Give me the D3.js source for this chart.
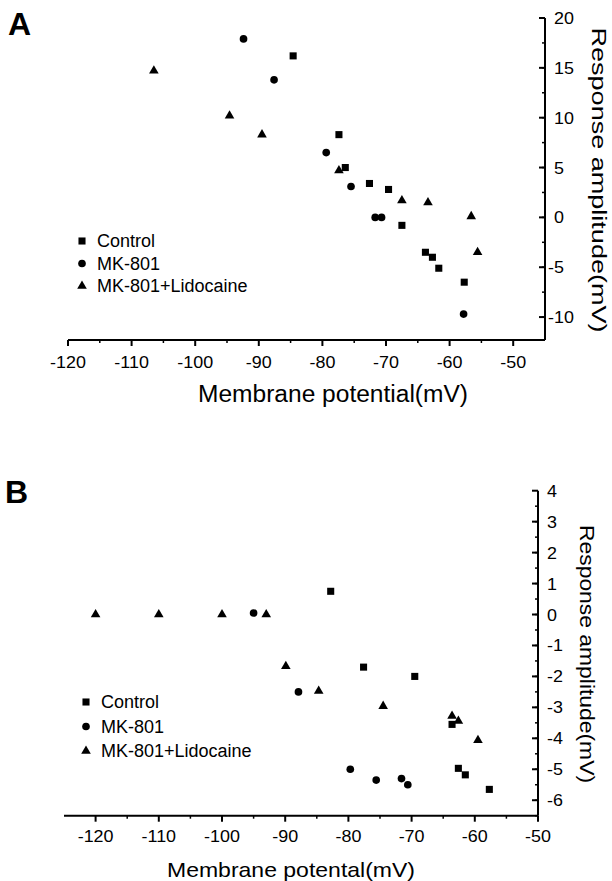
<!DOCTYPE html>
<html>
<head>
<meta charset="utf-8">
<script src="https://cdn.jsdelivr.net/npm/d3@7"></script>
<style>
  body { margin: 0; background: #fff; }
  svg { display: block; font-family: Arial, "Liberation Sans", sans-serif; }
</style>
</head>
<body>
<div id="chart"></div>
<script>
// Panel A data
const seriesNames = ["Control", "MK-801", "MK-801+Lidocaine"];
const aControlX = [-84.6, -77.4, -76.4, -72.6, -69.6, -67.5, -63.8, -62.7, -61.7, -57.7];
const aControlY = [16.2, 8.3, 5.0, 3.4, 2.8, -0.8, -3.5, -4.0, -5.1, -6.5];
const aMkX = [-92.4, -87.6, -79.4, -75.5, -71.7, -70.7, -57.8];
const aMkY = [17.9, 13.8, 6.5, 3.1, 0, 0, -9.7];
const aLidoX = [-106.5, -94.6, -89.5, -77.4, -67.5, -63.4, -56.6, -55.6];
const aLidoY = [14.7, 10.2, 8.3, 4.7, 1.7, 1.5, 0.1, -3.5];

// Panel B data
const bControlX = [-82.8, -77.6, -69.5, -63.6, -62.6, -61.5, -57.7];
const bControlY = [0.75, -1.7, -2.0, -3.55, -4.97, -5.18, -5.65];
const bMkX = [-95, -87.9, -79.7, -75.6, -71.6, -70.6];
const bMkY = [0.05, -2.5, -5.0, -5.35, -5.3, -5.5];
const bLidoX = [-120, -110, -100, -93, -89.9, -84.7, -74.5, -63.6, -62.6, -59.5];
const bLidoY = [0, 0, 0, 0, -1.67, -2.47, -2.96, -3.28, -3.44, -4.06];

// tick values
const aXTicks = [-120, -110, -100, -90, -80, -70, -60, -50];
const aYTicks = [-10, -5, 0, 5, 10, 15, 20];
const bXTicks = [-120, -110, -100, -90, -80, -70, -60, -50];
const bYTicks = [-6, -5, -4, -3, -2, -1, 0, 1, 2, 3, 4];

const width = 612, height = 881;
const svg = d3.select("#chart").append("svg")
    .attr("width", width)
    .attr("height", height);

const symbols = [d3.symbolSquare, d3.symbolCircle, d3.symbolTriangle];
const symbolSizes = [50, 46, 40];

function zip(xs, ys) {
    return xs.map((x, i) => ({ x: x, y: ys[i] }));
}

function drawPanel(p) {
    const g = svg.append("g");
    const x = d3.scaleLinear().domain(p.xDomain).range(p.xRange);
    const y = d3.scaleLinear().domain(p.yDomain).range(p.yRange);
    const axisX = p.xRange[1];
    const axisY = p.yRange[0];

    // x axis line and ticks
    g.append("line")
        .attr("x1", p.xRange[0]).attr("x2", axisX)
        .attr("y1", axisY).attr("y2", axisY)
        .attr("stroke", "#000").attr("stroke-width", 2);
    g.selectAll(".xminor").data(p.xMinor).enter().append("line")
        .attr("x1", d => x(d)).attr("x2", d => x(d))
        .attr("y1", axisY).attr("y2", axisY + 3)
        .attr("stroke", "#000").attr("stroke-width", 1.5);
    g.selectAll(".xmajor").data(p.xTicks).enter().append("line")
        .attr("x1", d => x(d)).attr("x2", d => x(d))
        .attr("y1", axisY).attr("y2", axisY + 6)
        .attr("stroke", "#000").attr("stroke-width", 2);
    // the scan's digits are a bit wider than Arial, so stretch them a little
    g.selectAll(".xlab").data(p.xTicks).enter().append("text")
        .attr("transform", d => `translate(${x(d)},${p.xLabelBase}) scale(1.12,1)`)
        .attr("text-anchor", "middle")
        .attr("font-size", 16)
        .text(d => d);

    // y axis on the right
    g.append("line")
        .attr("x1", axisX).attr("x2", axisX)
        .attr("y1", p.yRange[1]).attr("y2", axisY)
        .attr("stroke", "#000").attr("stroke-width", 2);
    g.selectAll(".yminor").data(p.yMinor).enter().append("line")
        .attr("x1", axisX - 3).attr("x2", axisX)
        .attr("y1", d => y(d)).attr("y2", d => y(d))
        .attr("stroke", "#000").attr("stroke-width", 1.5);
    g.selectAll(".ymajor").data(p.yTicks).enter().append("line")
        .attr("x1", axisX - 6).attr("x2", axisX)
        .attr("y1", d => y(d)).attr("y2", d => y(d))
        .attr("stroke", "#000").attr("stroke-width", 2);
    g.selectAll(".ylab").data(p.yTicks).enter().append("text")
        .attr("transform", d => `translate(${axisX + (d < 0 ? p.negOffset : 9)},${y(d) + 6}) scale(1.12,1)`)
        .attr("font-size", 16)
        .text(d => d);

    // axis titles
    g.append("text")
        .attr("x", p.xTitle[0]).attr("y", p.xTitle[1])
        .attr("text-anchor", "middle")
        .attr("font-size", p.xTitle[2])
        .attr("textLength", p.xTitle[3])
        .attr("lengthAdjust", "spacingAndGlyphs")
        .text(p.xTitleText);
    g.append("text")
        .attr("transform", `translate(${p.yTitle[0]},${p.yTitle[1]}) rotate(90)`)
        .attr("text-anchor", "middle")
        .attr("font-size", p.yTitle[2])
        .attr("textLength", p.yTitle[3])
        .attr("lengthAdjust", "spacingAndGlyphs")
        .text("Response amplitude(mV)");

    // panel letter
    g.append("text")
        .attr("x", p.letterPos[0]).attr("y", p.letterPos[1])
        .attr("font-size", 32).attr("font-weight", "bold")
        .text(p.letter);

    // points
    p.series.forEach((s, i) => {
        g.selectAll(".pt" + i).data(s).enter().append("path")
            .attr("d", d3.symbol().type(symbols[i]).size(symbolSizes[i]))
            .attr("transform", d => `translate(${x(d.x)},${y(d.y)})`)
            .attr("fill", "#000");
    });

    // legend
    seriesNames.forEach((name, i) => {
        const ly = p.legend[1] + i * p.legend[2];
        g.append("path")
            .attr("d", d3.symbol().type(symbols[i]).size(symbolSizes[i]))
            .attr("transform", `translate(${p.legend[0]},${ly - 6})`)
            .attr("fill", "#000");
        g.append("text")
            .attr("x", p.legend[0] + 15).attr("y", ly)
            .attr("font-size", 18)
            .text(name);
    });
}

drawPanel({
    letter: "A", letterPos: [8, 35],
    xDomain: [-120, -45], xRange: [68, 545],
    yDomain: [-12.3, 20], yRange: [340, 18],
    xTicks: aXTicks, xMinor: d3.range(-115, -45, 10),
    yTicks: aYTicks, yMinor: d3.range(-12.5, 20, 2.5).filter(v => v > -12.3),
    xLabelBase: 368, negOffset: 3,
    xTitleText: "Membrane potential(mV)", xTitle: [333, 402, 23, 270],
    yTitle: [592, 180, 21, 305],
    legend: [82, 247, 22.5],
    series: [zip(aControlX, aControlY), zip(aMkX, aMkY), zip(aLidoX, aLidoY)]
});

drawPanel({
    letter: "B", letterPos: [5, 503],
    xDomain: [-125, -50], xRange: [64, 538],
    yDomain: [-6.5, 4], yRange: [815.7, 490.7],
    xTicks: bXTicks, xMinor: d3.range(-115, -50, 10),
    yTicks: bYTicks, yMinor: d3.range(-6.5, 4, 0.5),
    xLabelBase: 842, negOffset: 9,
    xTitleText: "Membrane potental(mV)", xTitle: [291, 877, 21, 248],
    yTitle: [580, 654, 21, 258],
    legend: [86, 708, 24.5],
    series: [zip(bControlX, bControlY), zip(bMkX, bMkY), zip(bLidoX, bLidoY)]
});
</script>
</body>
</html>
